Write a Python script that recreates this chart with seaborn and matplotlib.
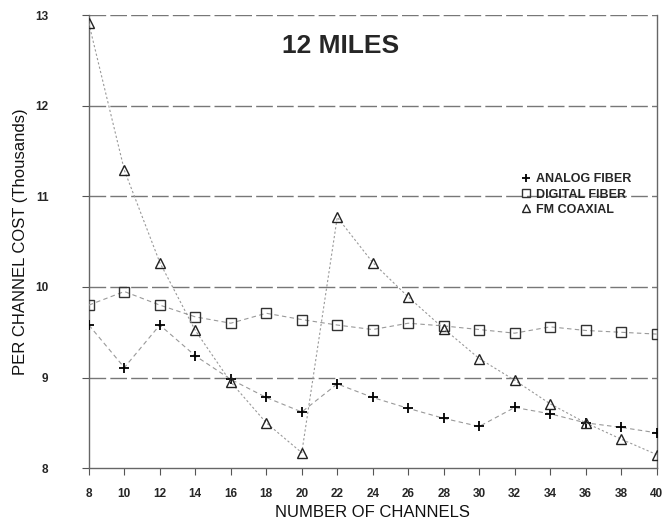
import numpy as np
import pandas as pd
import matplotlib
matplotlib.use("Agg")
import matplotlib.pyplot as plt
import seaborn as sns

channels = [8, 10, 12, 14, 16, 18, 20, 22, 24, 26, 28, 30, 32, 34, 36, 38, 40]
analog_fiber = [9.58, 9.11, 9.58, 9.24, 8.98, 8.78, 8.62, 8.93, 8.78, 8.66, 8.55, 8.46, 8.67, 8.60, 8.50, 8.45, 8.39]
digital_fiber = [9.80, 9.95, 9.80, 9.67, 9.60, 9.71, 9.64, 9.58, 9.53, 9.60, 9.57, 9.53, 9.49, 9.56, 9.52, 9.50, 9.48]
fm_coaxial = [12.91, 11.29, 10.27, 9.52, 8.95, 8.50, 8.17, 10.77, 10.27, 9.89, 9.54, 9.21, 8.97, 8.71, 8.50, 8.32, 8.15]

x_ticks = list(range(8, 41, 2))
y_ticks = [8, 9, 10, 11, 12, 13]

sns.set_theme(style="white")
plt.rcParams['font.family'] = ['Liberation Sans', 'DejaVu Sans']

fig = plt.figure(figsize=(6.68, 5.26), dpi=100)
ax = fig.add_axes([0.133, 0.110, 0.850, 0.861])

# grid lines first so points sit on top
for v in y_ticks[1:]:
    ax.axhline(v, color='#777777', lw=1.0, ls=(0, (12, 3)), zorder=1)

sns.lineplot(x=channels, y=analog_fiber, ax=ax, color='#999999', lw=0.8,
             linestyle=(0, (4, 3)), marker='+', markersize=7, mew=1.3,
             mec='black', label='ANALOG FIBER', zorder=3)
sns.lineplot(x=channels, y=digital_fiber, ax=ax, color='#999999', lw=0.8,
             linestyle=(0, (4, 3)), marker='s', markersize=6.5, mew=1.0,
             mfc='none', mec='#333333', label='DIGITAL FIBER', zorder=3)
sns.lineplot(x=channels, y=fm_coaxial, ax=ax, color='#999999', lw=0.8,
             linestyle=(0, (2, 2)), marker='^', markersize=6.5, mew=1.0,
             mfc='none', mec='#222222', label='FM COAXIAL', zorder=3)

ax.set_xlim(8, 40)
ax.set_ylim(8, 13)
ax.set_xticks(x_ticks)
ax.set_yticks(y_ticks)
ax.set_xticklabels([str(t) for t in x_ticks], fontsize=8.5, fontweight='bold')
ax.set_yticklabels([str(t) for t in y_ticks], fontsize=8.5, fontweight='bold')
ax.tick_params(axis='x', direction='out', length=5, width=0.8, color='#555555', pad=9, bottom=True)
ax.tick_params(axis='y', direction='out', length=5, width=0.8, color='#555555', pad=24, left=True)

for side in ['left', 'right', 'bottom']:
    ax.spines[side].set_color('#666666')
    ax.spines[side].set_linewidth(1.0)
ax.spines['top'].set_visible(False)

ax.set_xlabel('NUMBER OF CHANNELS', fontsize=12, labelpad=4, color='#111111')
ax.set_ylabel('PER CHANNEL COST (Thousands)', fontsize=12, labelpad=5, color='#111111')

ax.text(0.444, 0.932, '12 MILES', transform=ax.transAxes, fontsize=19,
        fontweight='bold', ha='center', va='center')

leg = ax.legend(loc='upper left', bbox_to_anchor=(0.745, 0.67), frameon=False,
                fontsize=9, handlelength=0.8, handletextpad=0.4, labelspacing=0.25,
                borderpad=0.2)
for txt in leg.get_texts():
    txt.set_fontweight('bold')
for h in leg.legend_handles:
    h.set_linestyle('none')
    h.set_markersize(6)

fig.savefig('out.png', dpi=100, facecolor='white')
